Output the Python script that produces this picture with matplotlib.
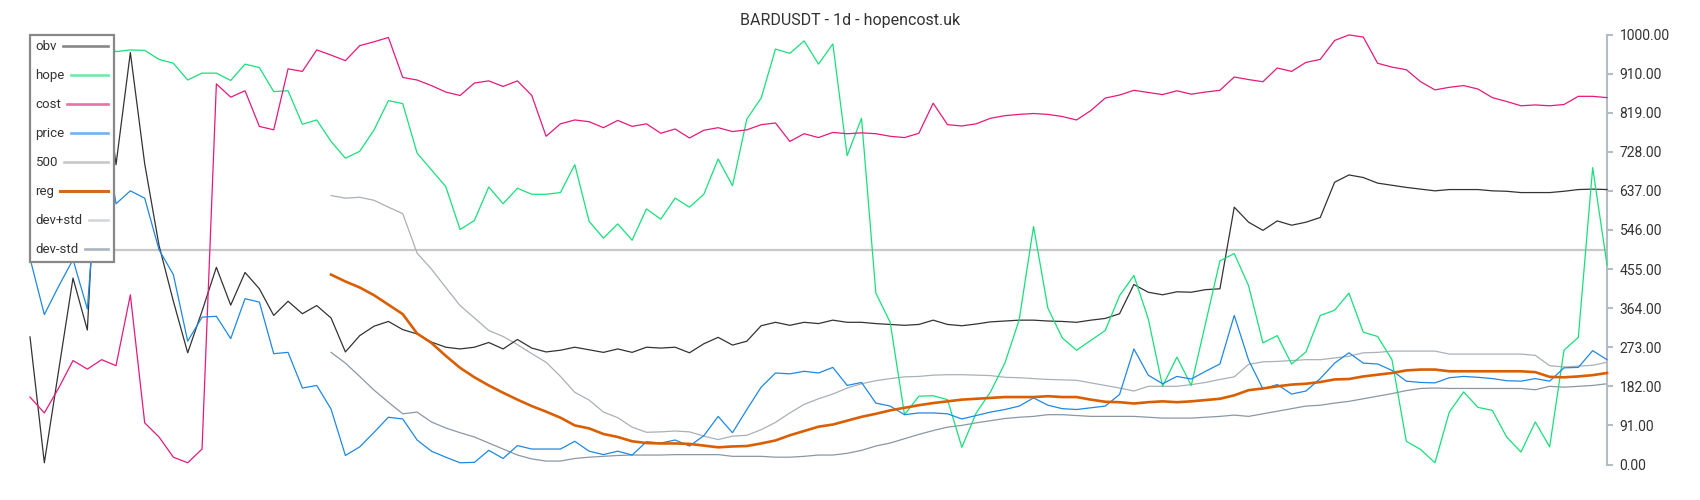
import matplotlib
matplotlib.use("Agg")
import matplotlib.pyplot as plt
from matplotlib.lines import Line2D
import numpy as np

plt.rcParams['font.family'] = ['Roboto', 'DejaVu Sans']

title = "BARDUSDT - 1d - hopencost.uk"
labels = ["obv", "hope", "cost", "price", "500", "reg", "dev+std", "dev-std"]
ytick_values = [0, 91, 182, 273, 364, 455, 546, 637, 728, 819, 910, 1000]

obv = [297, 4, 219, 434, 313, 960, 698, 959, 700, 510, 380, 260, 357, 459, 371, 447, 409, 347, 380,
       351, 370, 341, 262, 300, 322, 333, 314, 304, 285, 273, 269, 273, 284, 269, 291, 271, 262,
       266, 273, 267, 261, 269, 261, 273, 271, 273, 260, 281, 296, 278, 287, 323, 331, 324, 331,
       328, 336, 331, 331, 328, 326, 324, 326, 336, 326, 323, 327, 332, 334, 336, 336, 334, 333,
       331, 336, 340, 351, 419, 401, 395, 402, 401, 407, 409, 599, 564, 545, 567, 557, 564, 575,
       657, 674, 668, 655, 650, 645, 641, 637, 640, 640, 640, 637, 636, 633, 633, 633, 636, 640, 641, 640]

hope = [975, 985, 990, 1000, 990, 985, 961, 965, 964, 943, 934, 895, 911, 911, 894, 932, 924, 868, 870,
        792, 802, 752, 713, 729, 779, 847, 840, 725, 686, 647, 547, 568, 646, 607, 643, 629, 629,
        633, 698, 566, 527, 560, 522, 595, 571, 620, 599, 629, 711, 649, 804, 853, 967, 957, 986,
        932, 979, 719, 806, 399, 331, 116, 159, 160, 151, 40, 120, 169, 236, 337, 554, 364, 295,
        266, 289, 312, 393, 440, 339, 182, 250, 184, 329, 474, 491, 416, 283, 300, 234, 262, 347,
        359, 399, 308, 298, 244, 54, 35, 4, 122, 169, 133, 126, 64, 29, 99, 41, 266, 296, 691, 465]

cost = [157, 120, 178, 242, 222, 244, 230, 395, 97, 64, 17, 4, 36, 886, 855, 870, 787, 779, 921,
        915, 965, 953, 940, 975, 984, 994, 901, 895, 882, 867, 859, 888, 893, 880, 893, 859, 764,
        793, 802, 798, 784, 801, 787, 793, 771, 781, 760, 778, 784, 775, 779, 791, 795, 752, 770,
        761, 773, 770, 772, 770, 764, 761, 771, 841, 791, 788, 793, 806, 812, 815, 817, 815, 810,
        802, 824, 853, 860, 871, 866, 861, 870, 862, 867, 871, 902, 896, 891, 923, 915, 936, 943,
        987, 1000, 995, 934, 925, 919, 891, 872, 878, 882, 874, 854, 845, 835, 837, 835, 838, 857, 857, 854]

price = [480, 349, 415, 477, 362, 810, 607, 637, 620, 500, 442, 287, 343, 345, 293, 386, 378, 258, 261,
         178, 184, 129, 21, 41, 75, 110, 106, 57, 31, 17, 4, 5, 33, 14, 44, 36, 36,
         36, 54, 31, 23, 31, 22, 53, 50, 57, 43, 67, 112, 74, 128, 180, 213, 211, 217,
         213, 226, 184, 191, 143, 136, 116, 120, 120, 118, 106, 114, 122, 128, 136, 155, 138, 130,
         128, 132, 136, 163, 269, 208, 188, 205, 199, 217, 234, 347, 243, 176, 186, 164, 171, 200,
         236, 260, 236, 234, 219, 194, 191, 190, 202, 205, 203, 200, 195, 194, 200, 194, 225, 226, 265, 244]

level = 500

reg_start = 21
reg = [442, 426, 412, 394, 372, 350, 305, 283, 253, 225, 203, 184, 167, 151, 136, 123,
       109, 91, 84, 71, 64, 54, 50, 49, 49, 48, 44, 40, 42, 43, 49, 56, 68, 78,
       88, 93, 102, 111, 118, 126, 132, 138, 143, 147, 151, 153, 155, 157, 157, 157, 159, 157,
       157, 151, 146, 145, 142, 145, 147, 145, 147, 150, 153, 161, 173, 177, 182, 186, 188, 192,
       198, 199, 205, 209, 213, 219, 221, 221, 217, 217, 217, 217, 217, 217, 215, 204, 203, 205, 208, 213]

dev_plus = [626, 620, 622, 615, 599, 584, 492, 455, 412, 370, 341, 312, 298, 279, 258, 238,
            205, 168, 150, 122, 109, 87, 75, 76, 78, 76, 66, 58, 66, 68, 81, 98, 120, 140,
            153, 164, 178, 188, 195, 200, 204, 205, 208, 209, 209, 208, 207, 203, 202, 200, 198, 197,
            196, 190, 184, 178, 171, 182, 182, 182, 186, 191, 198, 204, 233, 239, 240, 242, 244, 244,
            248, 252, 260, 261, 264, 264, 264, 264, 257, 257, 257, 257, 257, 257, 254, 230, 227, 229, 231, 238]

dev_minus = [261, 236, 205, 173, 145, 118, 122, 99, 85, 74, 64, 50, 36, 22, 13, 8,
             8, 14, 17, 19, 21, 22, 22, 22, 23, 23, 23, 23, 19, 19, 19, 17, 17, 19,
             22, 22, 26, 33, 43, 50, 60, 70, 79, 87, 91, 97, 102, 107, 110, 112, 116, 116,
             114, 112, 112, 112, 112, 110, 108, 108, 108, 110, 112, 115, 112, 118, 124, 130, 136, 138,
             143, 147, 153, 159, 165, 172, 177, 178, 177, 177, 177, 177, 177, 177, 174, 182, 180, 182, 184, 188]

colors = {
    "obv": "#333333",
    "hope": "#17e07a",
    "cost": "#e6197d",
    "price": "#1e88e5",
    "500": "#c8c8c8",
    "reg": "#d95f02",
    "dev+std": "#aab0b8",
    "dev-std": "#8a98a4",
}
legend_colors = {
    "obv": "#888888",
    "hope": "#74e8a8",
    "cost": "#ee6fab",
    "price": "#72b2ee",
    "500": "#c8c8c8",
    "reg": "#d2691e",
    "dev+std": "#d3d7db",
    "dev-std": "#a9b4bc",
}

n = len(obv)
x = np.arange(n)
xr = np.arange(reg_start, reg_start + len(reg))

fig = plt.figure(figsize=(17, 5), dpi=100)
ax = fig.add_axes([30 / 1700, 35.5 / 500, 1577 / 1700, 429.6 / 500])

lw = 0.9
ax.axhline(level, color=colors["500"], lw=1.6, zorder=1)
ax.plot(xr, dev_plus, color=colors["dev+std"], lw=lw, clip_on=False, zorder=2)
ax.plot(xr, dev_minus, color=colors["dev-std"], lw=lw, clip_on=False, zorder=2)
ax.plot(x, obv, color=colors["obv"], lw=lw, clip_on=False, zorder=3)
ax.plot(x, hope, color=colors["hope"], lw=lw, clip_on=False, zorder=3)
ax.plot(x, cost, color=colors["cost"], lw=lw, clip_on=False, zorder=3)
ax.plot(x, price, color=colors["price"], lw=lw, clip_on=False, zorder=3)
ax.plot(xr, reg, color=colors["reg"], lw=1.9, clip_on=False, zorder=4)

ax.set_xlim(0, n - 1)
ax.set_ylim(0, 1000)
ax.set_xticks([])
for s in ["left", "top", "bottom"]:
    ax.spines[s].set_visible(False)
ax.spines["right"].set_color("#b4bcc4")
ax.spines["right"].set_linewidth(1.5)
ax.yaxis.tick_right()
ax.set_yticks(ytick_values)
ax.set_yticklabels([f"{v:.2f}" for v in ytick_values])
ax.tick_params(axis="y", direction="out", length=4, width=1.5, color="#b4bcc4",
               labelsize=10, labelcolor="#333333", pad=5)

handles = [Line2D([0], [0], color=legend_colors[l], lw=1.9 if l != "reg" else 2.2) for l in labels]
leg = ax.legend(handles, labels, loc="upper left", bbox_to_anchor=(0, 1), borderaxespad=0,
                markerfirst=False, fontsize=9.5, labelspacing=1.21, handlelength=1.5,
                handletextpad=0.45, borderpad=0.42, fancybox=False, framealpha=1,
                edgecolor="#888888", labelcolor="#333333")
leg.get_frame().set_linewidth(1.6)
leg.set_zorder(10)

# left-align labels: stretch each handle so all rows end at the same right edge
renderer = fig.canvas.get_renderer()
dpi_cor = renderer.points_to_pixels(1.0)
column = leg._legend_handle_box.get_children()[0]
items = column.get_children()
sep_px = leg.handletextpad * leg._fontsize * dpi_cor
text_w = [it.get_children()[0].get_bbox(renderer).width for it in items]
min_handle_px = items[0].get_children()[1].width * dpi_cor
row_w = max(text_w) + sep_px + min_handle_px
for it, tw in zip(items, text_w):
    da = it.get_children()[1]
    new_w = (row_w - tw - sep_px) / dpi_cor
    da.width = new_w
    for art in da.get_children():
        if hasattr(art, "get_xdata"):
            xd = np.asarray(art.get_xdata())
            art.set_xdata(np.linspace(0, new_w, len(xd)))

fig.text(0.5, 1 - 20.5 / 500, title, ha="center", va="center", fontsize=11.5, color="#333333")

fig.savefig("out.png", dpi=100)
